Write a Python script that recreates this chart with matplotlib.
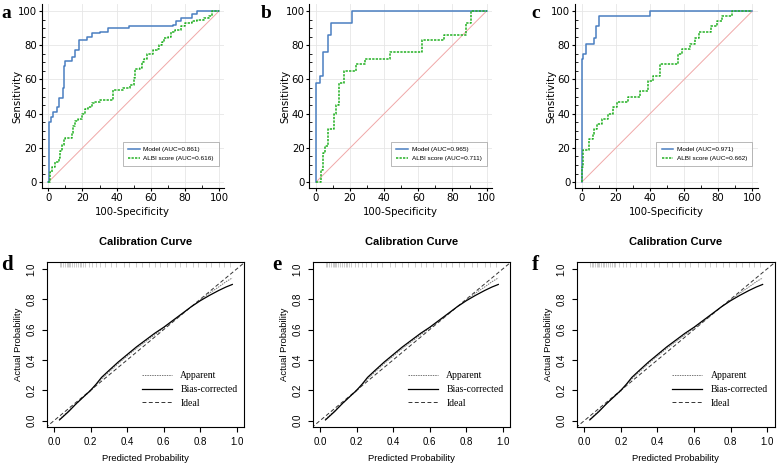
import matplotlib
matplotlib.use("Agg")
import matplotlib.pyplot as plt
from matplotlib.ticker import MultipleLocator

plt.rcParams['font.family'] = ['Liberation Sans', 'DejaVu Sans']

# ROC curves (100-Specificity, Sensitivity), step vertices
model_a_x = [0, 0.6, 1.5, 3, 5, 6.5, 8.4, 9.2, 10, 13.7, 15.6, 18, 22.5, 25.4, 30, 35, 47, 73, 75, 78, 84, 87, 100]
model_a_y = [0, 35, 38, 41, 44, 49, 55, 68, 71, 73, 77, 83, 85, 87, 88, 90, 91, 92, 94, 96, 98, 100, 100]
albi_a_x = [0, 1, 2, 4, 6, 7, 8, 9, 10, 13.7, 14.6, 15.6, 17.6, 19.5, 21.5, 23.4, 25.4, 27, 30, 38, 44, 48,
            50, 51, 54, 55, 56, 58, 61.5, 63.5, 65, 66.4, 68, 70, 72, 74, 78, 80, 84, 87, 91, 94, 96, 100]
albi_a_y = [0, 6, 9, 12, 14, 18, 22, 25, 26, 29, 33, 36, 37, 40, 43, 44, 46, 47, 48, 54, 55, 57,
            61, 66, 67, 70, 72, 75, 77, 78, 80, 82, 84, 85, 88, 89, 91, 93, 94, 95, 96, 97, 100, 100]

model_b_x = [0, 0, 2.3, 3.9, 6.8, 9.1, 21.2, 100]
model_b_y = [0, 58, 62, 76, 86, 93, 100, 100]
albi_b_x = [0, 3, 4, 4.3, 5.2, 6.8, 10.5, 11.7, 13.6, 16.5, 23.7, 29, 43.5, 62, 75, 88, 91, 100]
albi_b_y = [0, 7, 11, 17, 21, 31, 40, 45, 58, 65, 69, 72, 76, 83, 86, 93, 100, 100]

model_c_x = [0, 0, 1, 2.5, 7.2, 8.4, 10.4, 40, 100]
model_c_y = [0, 72, 75, 81, 84, 91, 97, 100, 100]
albi_c_x = [0, 0, 1, 4.3, 6.4, 7.2, 8.8, 11.7, 15.6, 18.5, 20.5, 27, 34, 39, 42, 46, 56.6, 58.6,
            63.5, 66.4, 68.8, 76, 79, 82, 88, 100]
albi_c_y = [0, 9, 19, 25, 28, 31, 34, 37, 40, 44, 47, 50, 53, 59, 62, 69, 75, 78,
            81, 84, 88, 91, 94, 97, 100, 100]

roc_panels = [
    ("a", model_a_x, model_a_y, albi_a_x, albi_a_y, "0.861", "0.616"),
    ("b", model_b_x, model_b_y, albi_b_x, albi_b_y, "0.965", "0.711"),
    ("c", model_c_x, model_c_y, albi_c_x, albi_c_y, "0.971", "0.662"),
]

# calibration curves (predicted, actual)
cal_x = [0.03, 0.08, 0.12, 0.16, 0.20, 0.23, 0.26, 0.30, 0.35, 0.40, 0.45, 0.50, 0.55, 0.60,
         0.65, 0.70, 0.75, 0.80, 0.85, 0.90, 0.94, 0.975]
bias_y = [0.005, 0.06, 0.11, 0.155, 0.20, 0.24, 0.285, 0.33, 0.385, 0.435, 0.485, 0.53, 0.575, 0.615,
          0.66, 0.705, 0.75, 0.79, 0.825, 0.857, 0.88, 0.897]
appar_y = [0.01, 0.065, 0.11, 0.155, 0.195, 0.235, 0.275, 0.32, 0.375, 0.425, 0.475, 0.52, 0.565, 0.61,
           0.655, 0.70, 0.75, 0.795, 0.84, 0.88, 0.915, 0.94]
rug_x = [0.03, 0.04, 0.05, 0.06, 0.07, 0.075, 0.08, 0.09, 0.10, 0.11, 0.12, 0.13, 0.14, 0.15, 0.16,
         0.17, 0.19, 0.21, 0.23, 0.25, 0.28, 0.31, 0.34, 0.38, 0.41, 0.45, 0.48, 0.52, 0.55, 0.58,
         0.62, 0.66, 0.69, 0.72, 0.76, 0.79, 0.83, 0.86, 0.9, 0.93, 0.96]

fig = plt.figure(figsize=(7.77, 4.68), dpi=100)

roc_left = [41.5, 309.1, 574.9]
roc_letter_x = [1, 261, 531]
for (letter, mx, my, ax_, ay_, auc_m, auc_a), lpx, lx in zip(roc_panels, roc_left, roc_letter_x):
    ax = fig.add_axes([lpx / 777, 0.598, 182.6 / 777, 0.393])
    ax.set_xlim(-4, 103)
    ax.set_ylim(-3.5, 104)
    ax.plot([0, 100], [0, 100], color='#f0a8a8', lw=0.7)
    ax.step(mx, my, where='post', color='#4a7fc1', lw=1.1, label=f"Model (AUC={auc_m})")
    ax.step(ax_, ay_, where='post', color='#22b022', lw=1.1, ls=(0, (1.5, 0.8)),
            label=f"ALBI score (AUC={auc_a})")
    ax.set_xticks(range(0, 101, 20))
    ax.set_yticks(range(0, 101, 20))
    ax.xaxis.set_minor_locator(MultipleLocator(10))
    ax.yaxis.set_minor_locator(MultipleLocator(5))
    ax.tick_params(which='major', direction='out', length=2.5, labelsize=7.3, pad=0.8)
    ax.tick_params(which='minor', direction='in', length=2)
    for t in ax.get_xticklabels() + ax.get_yticklabels():
        t.set_family('DejaVu Sans')
    ax.grid(True, color='#e6e6e6', lw=0.6)
    ax.set_axisbelow(True)
    for s in ['top', 'right']:
        ax.spines[s].set_visible(False)
    ax.set_xlabel("100-Specificity", fontsize=7.3, labelpad=3, family='DejaVu Sans')
    ax.set_ylabel("Sensitivity", fontsize=7.3, family='DejaVu Sans')
    ax.yaxis.set_label_coords(-0.103, 0.5)
    leg = ax.legend(loc='lower right', fontsize=4.6, frameon=True, fancybox=False,
                    edgecolor='#999999', handlelength=1.8, handletextpad=0.6, borderpad=0.8,
                    labelspacing=0.5, borderaxespad=0, bbox_to_anchor=(0.972, 0.12))
    leg.get_frame().set_linewidth(0.6)
    fig.text(lx / 777, 1 - 13 / 468, letter, fontsize=14, fontweight='bold',
             family='Liberation Serif', va='center', ha='left')

cal_left = [46.7, 312.7, 577.0]
cal_letter_x = [1, 272, 532]
for letter, lpx, lx in zip("def", cal_left, cal_letter_x):
    ax = fig.add_axes([lpx / 777, 0.0882, 197.5 / 777, 0.352])
    ax.set_xlim(-0.04, 1.04)
    ax.set_ylim(-0.04, 1.045)
    ax.plot([-0.1, 1.1], [-0.1, 1.1], color='#333333', lw=0.7, ls=(0, (4, 2.5)), label="Ideal")
    ax.plot(cal_x, appar_y, color='#777777', lw=0.7, ls=(0, (1.5, 1)), label="Apparent")
    ax.plot(cal_x, bias_y, color='black', lw=0.9, label="Bias-corrected")
    ax.vlines(rug_x, 1.015, 1.045, color='#b8b8b8', lw=0.5)
    ax.set_xticks([0, 0.2, 0.4, 0.6, 0.8, 1.0])
    ax.set_yticks([0, 0.2, 0.4, 0.6, 0.8, 1.0])
    ax.set_xticklabels(["0.0", "0.2", "0.4", "0.6", "0.8", "1.0"])
    ax.set_yticklabels(["0.0", "0.2", "0.4", "0.6", "0.8", "1.0"], rotation=90, va='center')
    ax.tick_params(direction='out', length=3.5, labelsize=7, pad=4)
    for s in ax.spines.values():
        s.set_linewidth(0.8)
    ax.set_xlabel("Predicted Probability", fontsize=6.8)
    ax.xaxis.set_label_coords(0.5, -0.165)
    ax.set_ylabel("Actual Probability", fontsize=6.8)
    ax.yaxis.set_label_coords(-0.12, 0.5)
    ax.set_title("Calibration Curve", fontsize=8, fontweight='bold', pad=12)
    h, l = ax.get_legend_handles_labels()
    order = [1, 2, 0]
    ax.legend([h[i] for i in order], [l[i] for i in order], loc='center left',
              bbox_to_anchor=(0.48, 0.205), bbox_transform=ax.transData, frameon=False,
              prop={'family': 'Liberation Serif', 'size': 7}, handlelength=3.1,
              handletextpad=0.85, labelspacing=0.5, borderpad=0, borderaxespad=0)
    fig.text(lx / 777, 1 - 265 / 468, letter, fontsize=15, fontweight='bold',
             family='Liberation Serif', va='center', ha='left')

fig.savefig("out.png", dpi=100)
